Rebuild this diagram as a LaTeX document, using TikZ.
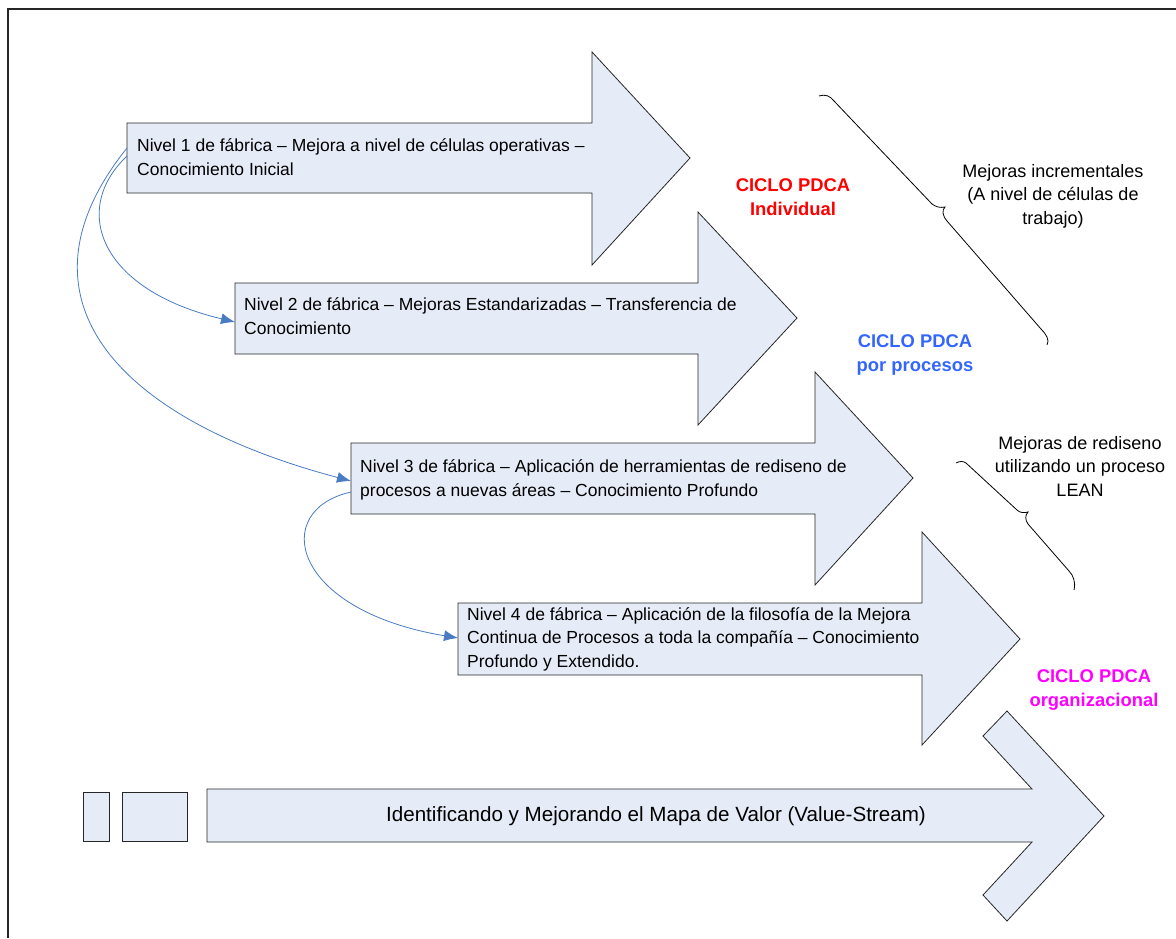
\documentclass[tikz,border=0pt]{standalone}
\usepackage{fontspec}
\setmainfont{Liberation Sans}
\usetikzlibrary{arrows.meta}
\definecolor{afill}{HTML}{E6ECF7}
\definecolor{connc}{HTML}{4A7CC4}
\definecolor{pblue}{HTML}{3366FF}
\definecolor{pmag}{HTML}{FF00FF}
\definecolor{pred}{HTML}{FF0000}
\begin{document}
\begin{tikzpicture}[x=1pt,y=-1pt,
  bigarrow/.style={fill=afill,draw=black!85,line width=0.8pt,line join=miter},
  lvltext/.style={anchor=base west,align=left,inner sep=0pt,font=\fontsize{17.5}{23.5}\selectfont},
  cyc/.style={align=center,inner sep=0pt,font=\fontsize{18.4}{23.5}\selectfont\bfseries},
  note/.style={align=center,inner sep=0pt,font=\fontsize{18}{23.5}\selectfont},
  connector/.style={draw=connc,line width=0.8pt,-{Latex[length=14pt,width=11pt]}},
  bracepath/.style={draw=black,line width=0.8pt}]
\useasboundingbox (0,0) rectangle (1176,938);
\fill[white] (0,0) rectangle (1176,938);
\draw[line width=2pt,black!85] (8,938) -- (8,9) -- (1176,9);

% level arrows
\draw[bigarrow] (127,123) -- (592,123) -- (592,52) -- (690,158) -- (592,265) -- (592,193) -- (127,193) -- cycle;
\draw[bigarrow] (235,283) -- (698,283) -- (698,212) -- (797,318) -- (698,425) -- (698,354) -- (235,354) -- cycle;
\draw[bigarrow] (351,443) -- (815,443) -- (815,372) -- (913,478) -- (815,585) -- (815,514) -- (351,514) -- cycle;
\draw[bigarrow] (458,603) -- (922,603) -- (922,532) -- (1020,639) -- (922,745) -- (922,675) -- (458,675) -- cycle;

% bottom value stream
\draw[bigarrow] (83,792) rectangle (109,841);
\draw[bigarrow] (122,792) rectangle (187,841);
\draw[bigarrow] (207,789) -- (1032,789) -- (983,736) -- (1007,711) -- (1104,816) -- (1007,921) -- (983,895) -- (1032,842) -- (207,842) -- cycle;

% texts
\node[lvltext] (t1) at (137,175) {Nivel 1 de fábrica – Mejora a nivel de células operativas –\\Conocimiento Inicial};
\node[lvltext] (t2) at (244,334) {Nivel 2 de fábrica – Mejoras Estandarizadas – Transferencia de\\Conocimiento};
\node[lvltext] (t3) at (360,496) {Nivel 3 de fábrica – Aplicación de herramientas de rediseno de\\procesos a nuevas áreas – Conocimiento Profundo};
\node[lvltext] (t4) at (467,667) {Nivel 4 de fábrica – Aplicación de la filosofía de la Mejora\\Continua de Procesos a toda la compañía – Conocimiento\\Profundo y Extendido.};
\node[inner sep=0pt,font=\fontsize{20.6}{24}\selectfont] (vs) at (656,816) {Identificando y Mejorando el Mapa de Valor (Value-Stream)};

\node[cyc,text=pred] (c1) at (793,197) {CICLO PDCA\\Individual};
\node[cyc,text=pblue] (c2) at (915,355) {CICLO PDCA\\por procesos};
\node[cyc,text=pmag] (c3) at (1094,690) {CICLO PDCA\\organizacional};

\node[note] (m1) at (1053,196) {Mejoras incrementales\\(A nivel de células de\\trabajo)};
\node[note] (m2) at (1080,466) {Mejoras de rediseno\\utilizando un proceso\\LEAN};

% braces
\draw[bracepath] (819,96) .. controls (826,94) and (830,96) .. (834,101) -- (932,204) .. controls (936,207) and (940,208) .. (945,207)
  .. controls (942,210) and (942,215) .. (947,221) -- (1041,329) .. controls (1046,334) and (1050,340) .. (1047,345);
\draw[bracepath] (956,463) .. controls (960,461) and (963,461) .. (966,463) -- (1017,510) .. controls (1020,513) and (1024,513) .. (1028,512)
  .. controls (1025,515) and (1025,520) .. (1028,524) -- (1069,571) .. controls (1073,575) and (1076,582) .. (1074,590);

% connectors
\coordinate (a1o) at (127,148);
\coordinate (a1i) at (127,156);
\coordinate (a2in) at (235,322);
\coordinate (a3in) at (351,481);
\coordinate (a3out) at (351,492);
\coordinate (a4in) at (458,638);
\draw[connector] (a1i) .. controls (70,210) and (100,290) .. (a2in);
\draw[connector] (a1o) .. controls (5,300) and (120,420) .. (a3in);
\draw[connector] (a3out) .. controls (270,510) and (290,610) .. (a4in);
\end{tikzpicture}
\end{document}
